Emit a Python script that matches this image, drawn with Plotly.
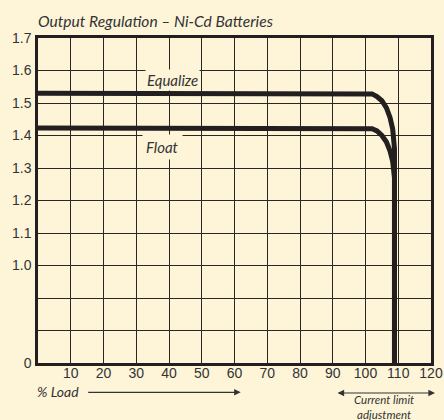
import plotly.graph_objects as go

# ---- data ----
x_ticks = [0, 10, 20, 30, 40, 50, 60, 70, 80, 90, 100, 110, 120]
x_tick_labels = ["", "10", "20", "30", "40", "50", "60", "70", "80", "90", "100", "110", "120"]

# broken y axis: bottom gridline stands for 0, then two blank rows, then 1.0 .. 1.7
y_tick_vals = [0.7, 0.8, 0.9, 1.0, 1.1, 1.2, 1.3, 1.4, 1.5, 1.6, 1.7]
y_tick_labels = ["0", "", "", "1.0", "1.1", "1.2", "1.3", "1.4", "1.5", "1.6", "1.7"]
AXIS_ZERO = 0.7  # axis position used for a value of 0

equalize_load = [0, 100, 102, 103.5, 105, 106.4, 107.5, 108.3, 108.7, 108.85, 108.85]
equalize_volts = [1.53, 1.53, 1.528, 1.52, 1.507, 1.485, 1.455, 1.42, 1.39, 1.36, 0]

float_load = [0, 100, 102, 103.5, 105, 106.4, 107.5, 108.3, 108.7, 108.85, 108.85]
float_volts = [1.423, 1.423, 1.421, 1.414, 1.40, 1.38, 1.352, 1.32, 1.295, 1.27, 0]


def to_axis(v):
    return v if v >= 1.0 else AXIS_ZERO


BG = "#FEF5D9"
INK = "#231F20"
GRID = "#2A2622"
TXT = "#333333"

fig = go.Figure()
for xs, ys, name in [(equalize_load, equalize_volts, "Equalize"), (float_load, float_volts, "Float")]:
    fig.add_trace(go.Scatter(
        x=xs, y=[to_axis(v) for v in ys], mode="lines", name=name,
        line=dict(color=INK, width=5), hoverinfo="skip", showlegend=False))

W, H = 444, 420
L, R, T, B = 38, 13, 38, 57
ph = H - T - B
pw = W - L - R


def py(p):
    return (H - B - p) / ph


def px(p):
    return (p - L) / pw


fig.update_layout(
    width=W, height=H,
    margin=dict(l=L, r=R, t=T, b=B, autoexpand=False),
    paper_bgcolor=BG, plot_bgcolor=BG,
    font=dict(family="Liberation Sans, Arial, sans-serif", size=14, color=TXT),
    xaxis=dict(range=[0, 120], tickvals=x_ticks, ticktext=x_tick_labels,
               showgrid=True, gridcolor=GRID, gridwidth=1.1, automargin=False,
               showline=True, linecolor=INK, linewidth=2.5, mirror=True,
               ticks="", ticklabelstandoff=-5, zeroline=False, fixedrange=True),
    yaxis=dict(range=[0.7, 1.7], tickvals=y_tick_vals, ticktext=y_tick_labels,
               showgrid=True, gridcolor=GRID, gridwidth=1.1, automargin=False,
               showline=True, linecolor=INK, linewidth=2.5, mirror=True,
               ticks="", ticklabelstandoff=1, zeroline=False, fixedrange=True),
)

ital = "Lato, 'Open Sans', sans-serif"
annos = [
    dict(text="<i>Output Regulation – Ni-Cd Batteries</i>", xref="paper", yref="paper",
         x=px(36), y=py(21), xanchor="left", yanchor="middle", showarrow=False,
         font=dict(family=ital, size=15.6, color=TXT)),
    dict(text="<i>Equalize</i>", xref="x", yref="y", x=32.7, y=1.570,
         xanchor="left", yanchor="middle", showarrow=False, bgcolor=BG, borderpad=1,
         font=dict(family=ital, size=15, color=TXT)),
    dict(text="<i>Float</i>", xref="x", yref="y", x=31.9, y=1.364,
         xanchor="left", yanchor="middle", showarrow=False, bgcolor=BG, borderpad=3,
         font=dict(family=ital, size=15, color=TXT)),
    dict(text="<i>% Load</i>", xref="paper", yref="paper", x=px(34.5), y=py(391.5),
         xanchor="left", yanchor="middle", showarrow=False,
         font=dict(family=ital, size=14, color=TXT)),
    # % Load arrow
    dict(text="", xref="paper", yref="paper", x=px(240.7), y=py(392.3),
         ax=-154, ay=0, showarrow=True, arrowhead=2, arrowsize=1.1, arrowwidth=1.2,
         arrowcolor=TXT),
    # current limit double arrow
    dict(text="", xref="paper", yref="paper", x=px(435), y=py(393),
         ax=-99, ay=0, showarrow=True, arrowhead=2, startarrowhead=2, arrowside="end+start",
         arrowsize=1.1, startarrowsize=1.1, arrowwidth=1.2, arrowcolor=TXT),
    dict(text="<i>Current limit<br>adjustment</i>", xref="paper", yref="paper",
         x=px(384), y=py(406.6), xanchor="center", yanchor="middle", borderpad=0,
         showarrow=False, font=dict(family=ital, size=11.5, color=TXT)),
]
fig.update_layout(annotations=annos)

fig.write_html("out.html", config={"displayModeBar": False},
               post_script="document.body.style.margin='0';document.body.style.background='%s';" % BG)
